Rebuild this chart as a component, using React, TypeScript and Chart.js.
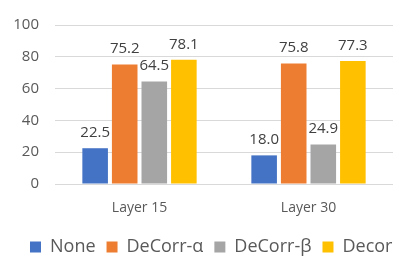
import React, { useEffect, useRef } from "react";
import { Chart, registerables } from "chart.js";

Chart.register(...registerables);

const categories = ["Layer 15", "Layer 30"];
const seriesNames = ["None", "DeCorr-α", "DeCorr-β", "Decorr-αβ"];
const noneValues = [22.5, 18.0];
const alphaValues = [75.2, 75.8];
const betaValues = [64.5, 24.9];
const bothValues = [78.1, 77.3];
const colors = ["#4472C4", "#ED7D31", "#A5A5A5", "#FFC000"];
const yTicks = [0, 20, 40, 60, 80, 100];

const FONT = "'Open Sans', 'Noto Sans', sans-serif";
const CANVAS_W = 470;
const CANVAS_H = 277;

const valueLabels = {
  id: "valueLabels",
  afterDatasetsDraw(chart: any) {
    const ctx = chart.ctx;
    ctx.save();
    ctx.font = `15px ${FONT}`;
    ctx.fillStyle = "#404040";
    ctx.textAlign = "center";
    ctx.textBaseline = "alphabetic";
    chart.data.datasets.forEach((ds: any, i: number) => {
      const meta = chart.getDatasetMeta(i);
      meta.data.forEach((bar: any, j: number) => {
        const v = ds.data[j] as number;
        ctx.fillText(v.toFixed(1), bar.x, bar.y - 11);
      });
    });
    ctx.restore();
  },
};

const legendShift = {
  id: "legendShift",
  afterLayout(chart: any) {
    const lg = chart.legend;
    if (lg) {
      lg.left += 19;
      lg.right += 19;
    }
  },
};

export default function App() {
  const ref = useRef<HTMLCanvasElement | null>(null);
  useEffect(() => {
    document.body.style.overflow = "hidden";
    const canvas = ref.current!;
    const all = [noneValues, alphaValues, betaValues, bothValues];
    const chart = new Chart(canvas, {
      type: "bar",
      data: {
        labels: categories,
        datasets: all.map((d, i) => ({
          label: seriesNames[i],
          data: d,
          backgroundColor: colors[i],
          borderWidth: 0,
          categoryPercentage: 0.7,
          barPercentage: 0.865,
          yAxisID: "y",
        })),
      },
      options: {
        responsive: false,
        animation: false,
        devicePixelRatio: 1,
        layout: { padding: { left: 0, top: 22, right: 0, bottom: 11 } },
        plugins: {
          tooltip: { enabled: false },
          legend: {
            position: "bottom",
            align: "start",
            labels: {
              boxWidth: 11,
              boxHeight: 11,
              padding: 11,
              color: "#595959",
              font: { family: FONT, size: 18 },
            },
          },
        },
        scales: {
          x: {
            grid: { display: false },
            border: { display: false },
            ticks: { color: "#595959", font: { family: FONT, size: 14 }, padding: 8 },
            afterFit: (s: any) => {
              s.height = 43;
            },
          },
          y: {
            min: 0,
            max: 100,
            afterBuildTicks: (s: any) => {
              s.ticks = yTicks.map((v) => ({ value: v }));
            },
            grid: { color: "#D9D9D9", drawTicks: false },
            border: { display: false },
            ticks: { color: "#595959", font: { family: FONT, size: 15 }, padding: 16 },
            afterFit: (s: any) => {
              s.width = 55;
            },
          },
          y2: {
            position: "right",
            display: true,
            grid: { display: false },
            border: { display: false },
            ticks: { display: false },
            afterFit: (s: any) => {
              s.width = CANVAS_W - 393;
            },
          },
        },
      },
      plugins: [valueLabels, legendShift],
    } as any);
    return () => chart.destroy();
  }, []);
  return (
    <div
      style={{
        position: "fixed",
        left: 0,
        top: 0,
        width: 393,
        height: CANVAS_H,
        overflow: "hidden",
        background: "#fff",
      }}
    >
      <canvas ref={ref} width={CANVAS_W} height={CANVAS_H} style={{ display: "block" }} />
    </div>
  );
}
